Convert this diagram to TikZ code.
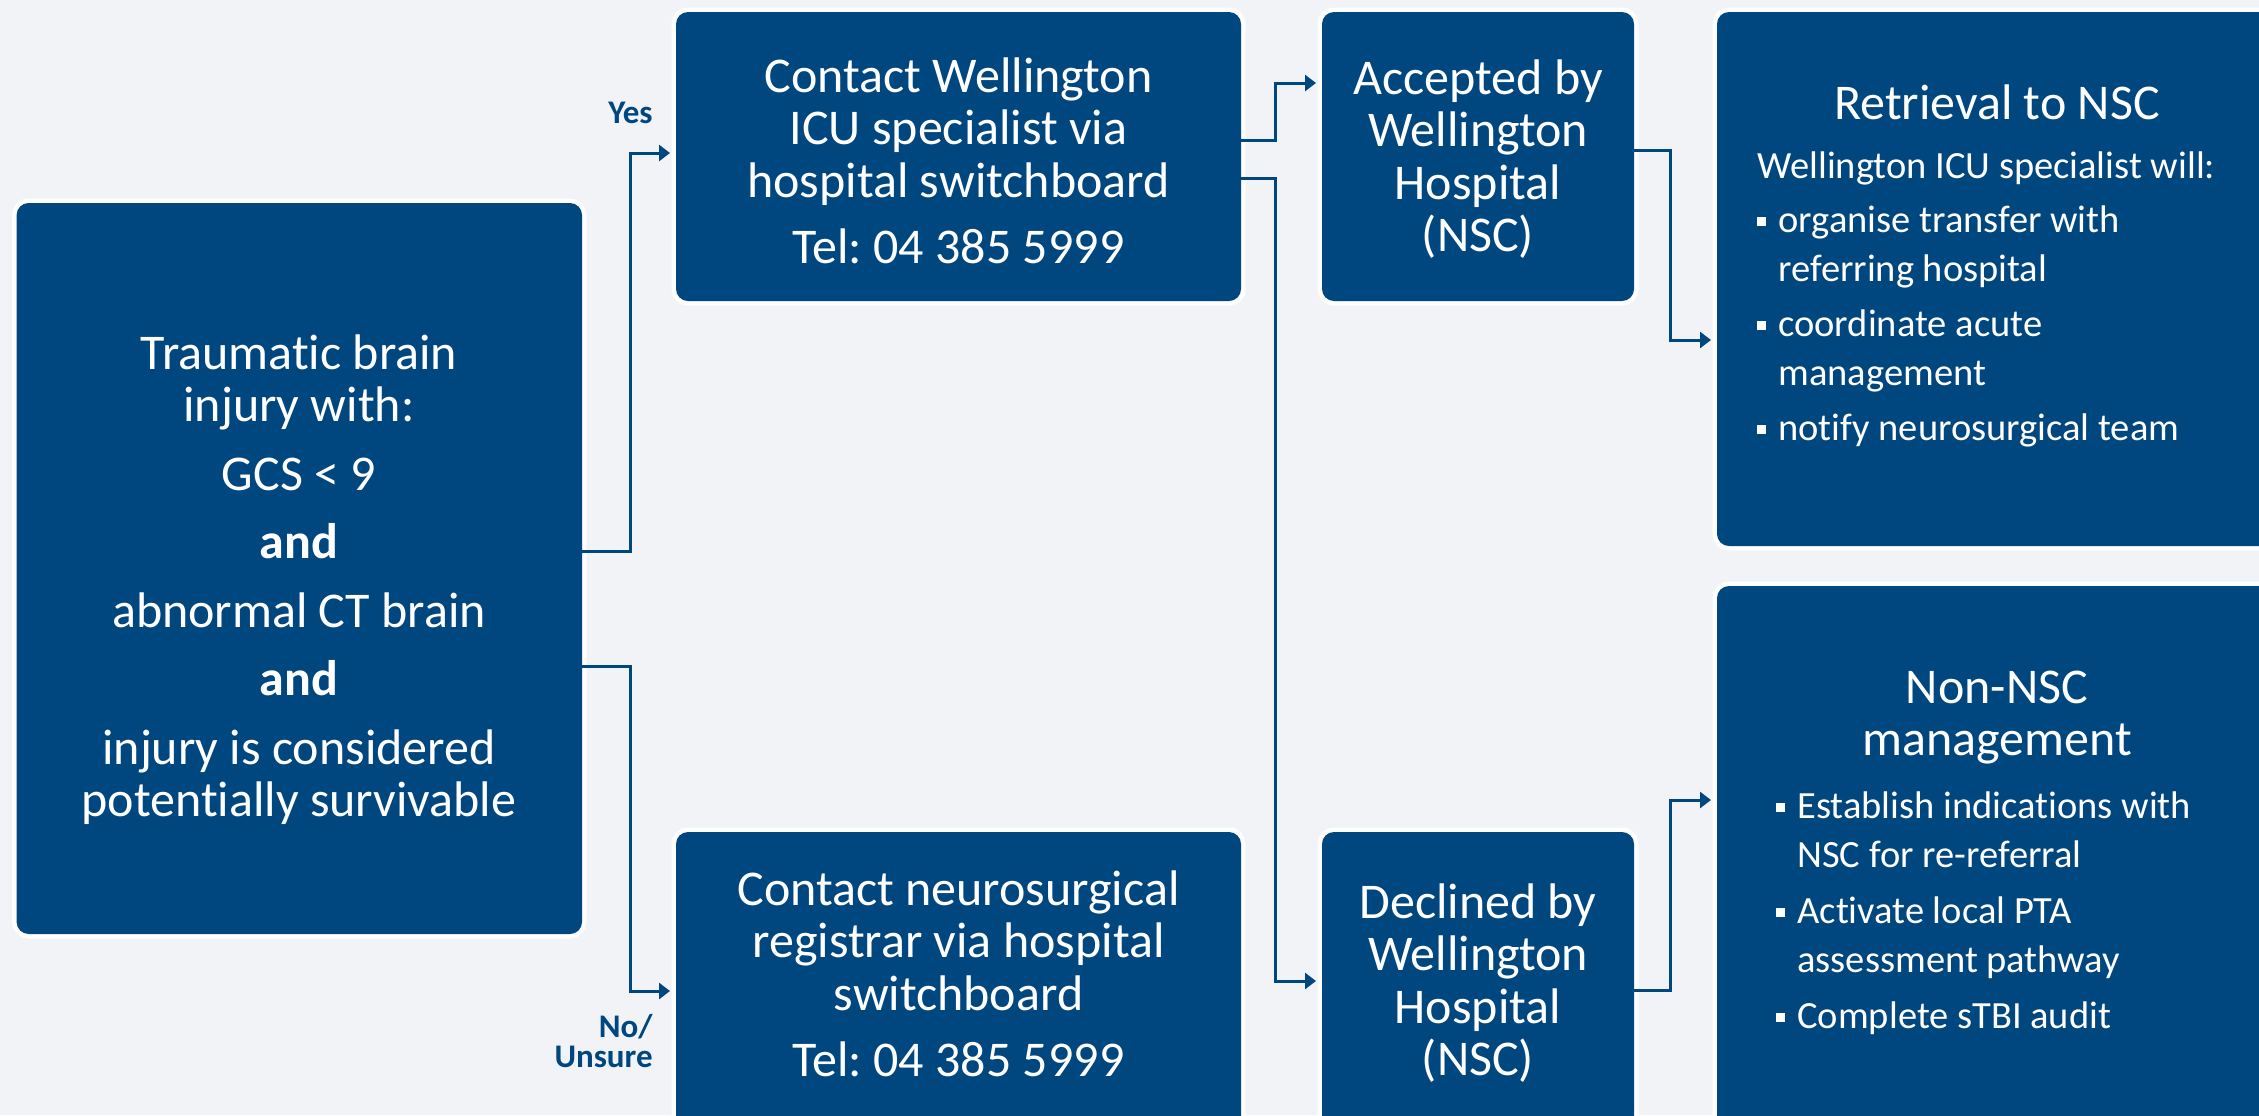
\documentclass[tikz,border=0pt]{standalone}
\usepackage{fontspec}
\setmainfont{Carlito}[Ligatures={NoCommon}]
\usetikzlibrary{arrows.meta}
\definecolor{boxblue}{RGB}{0,70,127}
\definecolor{bgc}{RGB}{242,243,247}
\newcommand\st{\rule{0pt}{1em}}
\newcommand\bul{\makebox[10.5pt][l]{\raisebox{3pt}{\rule{4.5pt}{4.5pt}}}}
\newcommand\ind{\hspace*{10.5pt}}
\frenchspacing
\begin{document}
\begin{tikzpicture}[x=0.5pt,y=-0.5pt,
  box/.style={fill=boxblue, rounded corners=6pt, inner sep=0pt, outer sep=0pt,
    anchor=north west, preaction={draw=white, line width=4.5pt}},
  main/.style={text=white, inner sep=0pt, align=center,
    font=\fontsize{25pt}{26.25pt}\selectfont, anchor=north},
  body/.style={text=white, inner sep=0pt, align=left,
    font=\fontsize{19.25pt}{24.5pt}\selectfont, anchor=north west},
  lab/.style={text=boxblue, inner sep=0pt, font=\bfseries\fontsize{16.5pt}{15pt}\selectfont},
  conn/.style={draw=boxblue, line width=1.5pt, shorten >=3pt,
    -{Triangle[length=5.5pt,width=8pt]}}]
\useasboundingbox (0,0) rectangle (2259,1115);
\fill[bgc] (0,0) rectangle (2259,1115);
\clip (0,0) rectangle (2259,1115);
% boxes
\node[box, minimum width=282.7pt, minimum height=365.5pt] (A) at (16.6,203) {};
\node[box, minimum width=282.5pt, minimum height=144.5pt] (B) at (676,12) {};
\node[box, minimum width=282.5pt, minimum height=154pt] (C) at (676,832) {};
\node[box, minimum width=156pt, minimum height=144.5pt] (D) at (1322,12) {};
\node[box, minimum width=156pt, minimum height=154pt] (E) at (1322,832) {};
\node[box, minimum width=286.5pt, minimum height=267pt] (F) at (1717,12) {};
\node[box, minimum width=286.5pt, minimum height=277pt] (G) at (1717,586) {};
% texts
\node[main] (tA) at (299,319) {\st Traumatic brain\\injury with:\\[8pt]GCS < 9\\[8pt]\textbf{and}\\[8pt]abnormal CT brain\\[8pt]\textbf{and}\\[8pt]injury is considered\\potentially survivable};
\node[main] (tB) at (958.5,42) {\st Contact Wellington\\ICU specialist via\\hospital switchboard\\[7pt]Tel: 04 385 5999};
\node[main] (tC) at (958.5,855) {\st Contact neurosurgical\\registrar via hospital\\switchboard\\[7pt]Tel: 04 385 5999};
\node[main] (tD) at (1478,44) {\st Accepted by\\Wellington\\Hospital\\(NSC)};
\node[main] (tE) at (1478,868) {\st Declined by\\Wellington\\Hospital\\(NSC)};
\node[main, anchor=base] (tF) at (1997,119) {Retrieval to NSC};
\node[body] (bF) at (1757,139.5) {\st Wellington ICU specialist will:\\[2.5pt]\bul organise transfer with\\\ind referring hospital\\[3pt]\bul coordinate acute\\\ind management\\[3pt]\bul notify neurosurgical team};
\node[main] (tG) at (1997,653) {\st Non-NSC\\management};
\node[body] (bG) at (1776,779.5) {\st\bul Establish indications with\\\ind NSC for re-referral\\[3.5pt]\bul Activate local PTA\\\ind assessment pathway\\[3.5pt]\bul Complete sTBI audit};
% labels
\node[lab, anchor=base east] (yes) at (653,123) {Yes};
\node[lab, anchor=north east, align=right] (no) at (653,1004) {\st No/\\Unsure};
% connectors
\draw[conn] (A.east |- 0,551) -| (630,153) -- (B.west |- 0,153);
\draw[conn] (A.east |- 0,666) -| (630,991) -- (C.west |- 0,991);
\draw[conn] (B.east |- 0,140) -| (1275,83) -- (D.west |- 0,83);
\draw[conn] (B.east |- 0,178) -| (1275,981) -- (E.west |- 0,981);
\draw[conn] (D.east |- 0,150) -| (1670,340) -- (F.west |- 0,340);
\draw[conn] (E.east |- 0,990) -| (1670,800) -- (G.west |- 0,800);
\end{tikzpicture}
\end{document}
